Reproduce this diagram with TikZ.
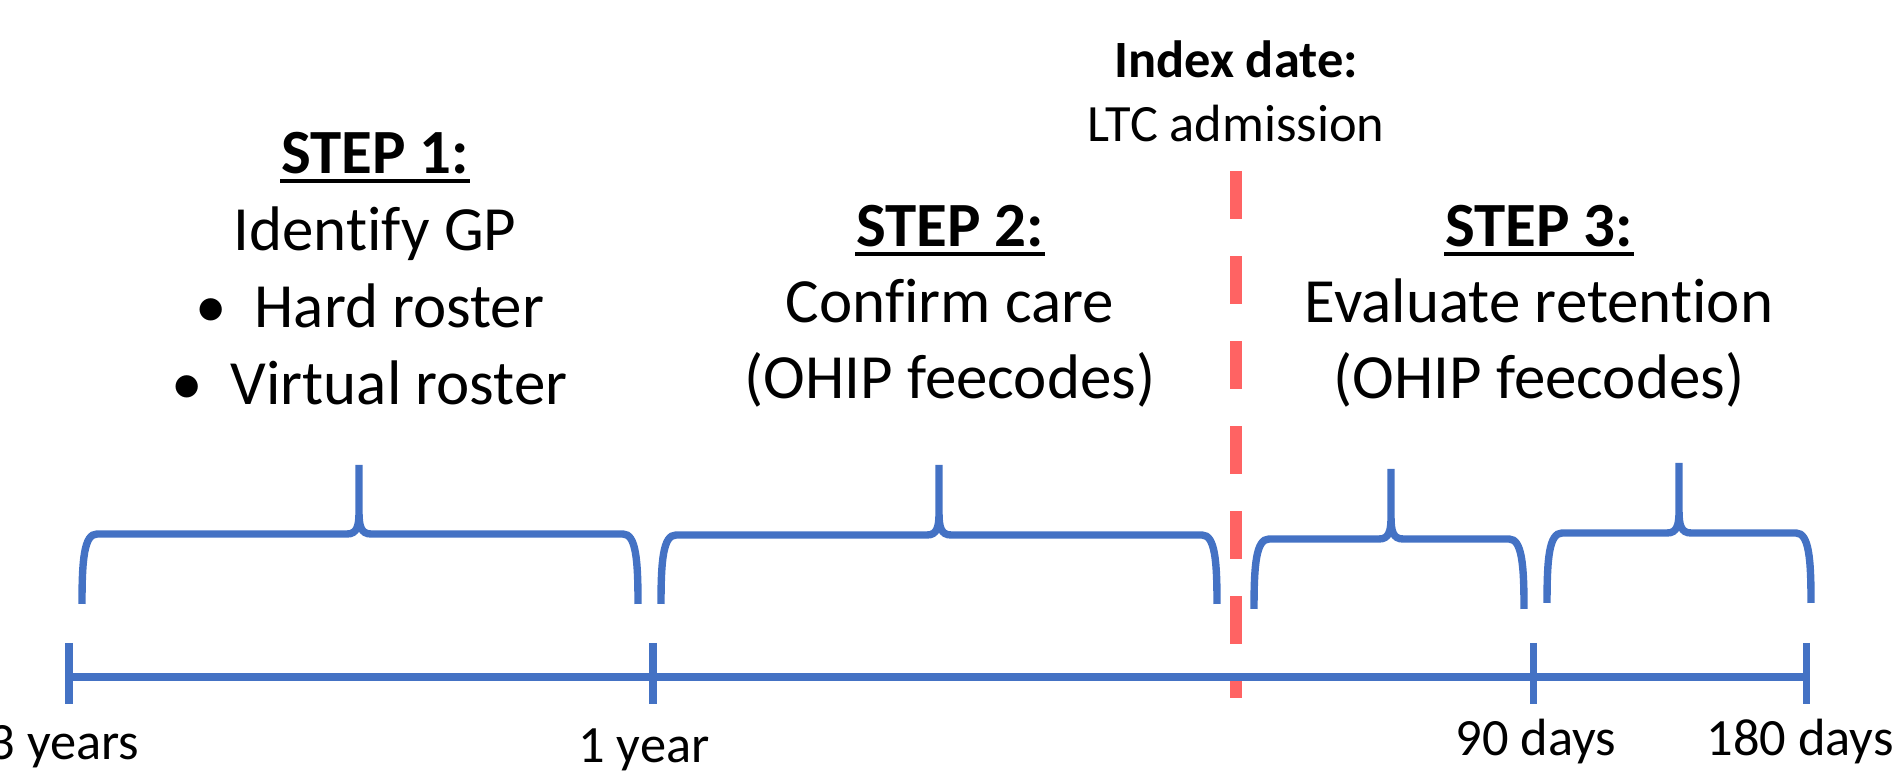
\documentclass[tikz,border=0pt]{standalone}
\usepackage{fontspec}
\setmainfont{Carlito}[Ligatures=NoCommon]

\definecolor{lineblue}{RGB}{68,114,196}
\definecolor{idxred}{RGB}{255,99,99}

\begin{document}
\begin{tikzpicture}[
    x=0.01cm, y=-0.01cm,
    every node/.style={inner sep=0pt, anchor=base},
    % 步骤标题
    steptitle/.style={font=\fontsize{17.9pt}{21.9pt}\selectfont\bfseries},
    % 步骤说明
    stepbody/.style={font=\fontsize{17.9pt}{21.9pt}\selectfont},
    % 时间轴文字
    ticklabel/.style={font=\fontsize{14.9pt}{18.2pt}\selectfont},
    idxtitle/.style={font=\fontsize{14.9pt}{18.2pt}\selectfont\bfseries},
    % 线条
    axis/.style={line width=2pt, lineblue},
    brace/.style={line width=2.1pt, lineblue},
    uline/.style={line width=1.1pt, black},
    index/.style={line width=3.4pt, idxred, dash pattern=on 0.48cm off 0.37cm},
]

\useasboundingbox (0,0) rectangle (1895,771);

%% ── 时间轴 ───────────────────────────────────────────
\coordinate (t0) at (69,677);
\coordinate (t1) at (653,677);
\coordinate (t2) at (1533,677);
\coordinate (t3) at (1806,677);

\draw[axis] (t0) -- (t3);
\foreach \t in {t0,t1,t2,t3}{
    \draw[axis] ([yshift=0.34cm]\t) -- ([yshift=-0.27cm]\t);
}

\node[ticklabel] (l0) at (64,760)   {3 years};
\node[ticklabel] (l1) at (644,763)  {1 year};
\node[ticklabel] (l2) at (1536,756) {90 days};
\node[ticklabel] (l3) at (1800,756) {180 days};

%% ── 索引日期（红色虚线）──────────────────────────────
\node[idxtitle]  (idx) at (1236,78)  {Index date:};
\node[ticklabel] (ltc) at (1236,142) {LTC admission};
\draw[index] (1236,171) -- (1236,698);

%% ── 花括号 ─────────────────────────────────────────────
% 左端x / 尖端x / 右端x / 横梁y / 尖顶y / 底端y
\foreach \xl/\xt/\xr/\yb/\yt/\yd in {82/359/638/534/465/604,
                                    661/939/1217/535/465/604,
                                    1254/1391/1524/539/469/609,
                                    1547/1679/1811/533/463/603}{
    \draw[brace] (\xl,\yd) .. controls (\xl,\yb+26) and (\xl+2,\yb) .. (\xl+15,\yb)
        -- (\xt-12,\yb) .. controls (\xt-2,\yb) and (\xt,\yb-8) .. (\xt,\yb-22) -- (\xt,\yt)
        (\xt,\yt) -- (\xt,\yb-22) .. controls (\xt,\yb-8) and (\xt+2,\yb) .. (\xt+12,\yb)
        -- (\xr-15,\yb) .. controls (\xr-2,\yb) and (\xr,\yb+26) .. (\xr,\yd);
}

%% ── 第一步 ───────────────────────────────────────────
\node[steptitle] (s1) at (375,174) {STEP 1:};
\draw[uline] ([yshift=-0.07cm]s1.base west) -- ([yshift=-0.07cm]s1.base east);
\node[stepbody] (s1a) at (375,251) {Identify GP};
\node[stepbody] (s1b) at (211,328) {\textbullet};
\node[stepbody, anchor=base west] (s1c) at (254,328) {Hard roster};
\node[stepbody] (s1d) at (187,405) {\textbullet};
\node[stepbody, anchor=base west] (s1e) at (230,405) {Virtual roster};

%% ── 第二步 ───────────────────────────────────────────
\node[steptitle] (s2) at (950,247) {STEP 2:};
\draw[uline] ([yshift=-0.07cm]s2.base west) -- ([yshift=-0.07cm]s2.base east);
\node[stepbody] (s2a) at (950,323) {Confirm care};
\node[stepbody] (s2b) at (950,399) {(OHIP feecodes)};

%% ── 第三步 ───────────────────────────────────────────
\node[steptitle] (s3) at (1539,247) {STEP 3:};
\draw[uline] ([yshift=-0.07cm]s3.base west) -- ([yshift=-0.07cm]s3.base east);
\node[stepbody] (s3a) at (1539,323) {Evaluate retention};
\node[stepbody] (s3b) at (1539,399) {(OHIP feecodes)};

\end{tikzpicture}
\end{document}
